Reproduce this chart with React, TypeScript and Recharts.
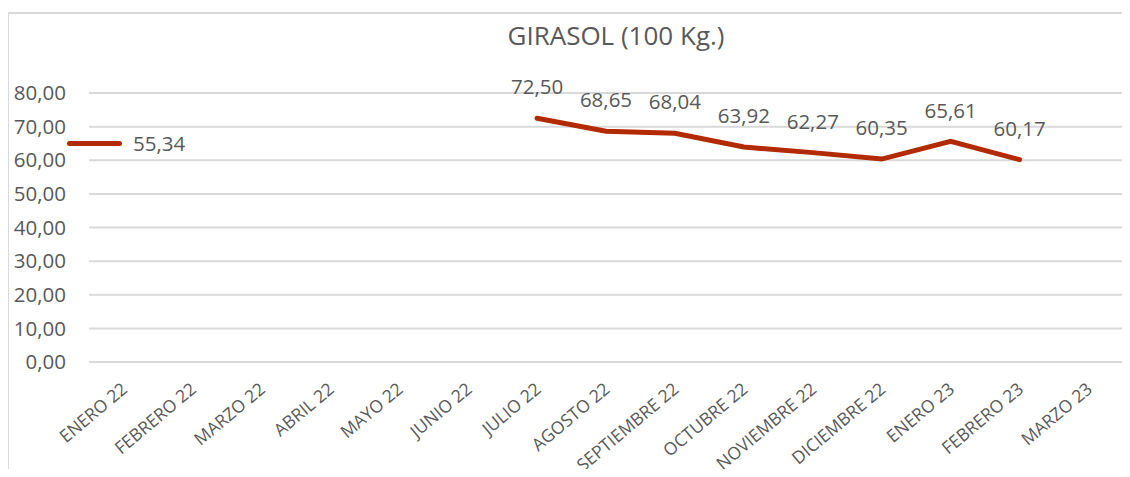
import React from 'react';
import { LineChart, Line, XAxis, YAxis, CartesianGrid, LabelList } from 'recharts';

const months = [
  'ENERO 22', 'FEBRERO 22', 'MARZO 22', 'ABRIL 22', 'MAYO 22', 'JUNIO 22', 'JULIO 22',
  'AGOSTO 22', 'SEPTIEMBRE 22', 'OCTUBRE 22', 'NOVIEMBRE 22', 'DICIEMBRE 22',
  'ENERO 23', 'FEBRERO 23', 'MARZO 23',
];
const prices: (number | null)[] = [
  null, null, null, null, null, null, 72.5, 68.65, 68.04, 63.92, 62.27, 60.35, 65.61, 60.17, null,
];
const yTicks = [0, 10, 20, 30, 40, 50, 60, 70, 80];
const title = 'GIRASOL (100 Kg.)';
const legendLabel = '55,34';

const data = months.map((m, i) => ({ month: m, price: prices[i] }));

const FONT = '"Open Sans", sans-serif';
const TEXT = '#595959';
const LINE = '#B22A00';
const GRID = '#D9D9D9';

const fmt = (v: number) => v.toFixed(2).replace('.', ',');

const XTick = (props: any) => {
  const { x, y, payload } = props;
  const ax = x + 5;
  const ay = y + 21;
  return (
    <text
      x={ax}
      y={ay}
      transform={`rotate(-40 ${ax} ${ay})`}
      textAnchor="end"
      fill={TEXT}
      fontSize={17.5}
      fontFamily={FONT}
    >
      {payload.value}
    </text>
  );
};

const YTick = (props: any) => {
  const { x, y, payload } = props;
  return (
    <text x={x} y={y} dy="0.35em" textAnchor="end" fill={TEXT} fontSize={20.5} fontFamily={FONT}>
      {fmt(payload.value)}
    </text>
  );
};

const ValueLabel = (props: any) => {
  const { x, y, value } = props;
  if (value == null) return null;
  return (
    <text x={x} y={y - 31} dy="0.35em" textAnchor="middle" fill={TEXT} fontSize={20.5} fontFamily={FONT}>
      {fmt(value)}
    </text>
  );
};

export default function App() {
  return (
    <div style={{ position: 'relative', width: 1130, height: 477, margin: -8, background: '#fff', overflow: 'hidden' }}>
      <div
        style={{
          position: 'absolute', left: 7, top: 12, width: 1140, height: 480,
          borderLeft: `2px solid ${GRID}`, borderTop: `2px solid ${GRID}`, boxSizing: 'border-box',
        }}
      />
      <div
        style={{
          position: 'absolute', left: 0, width: 1232, top: 17, textAlign: 'center',
          fontFamily: FONT, fontSize: 26, color: TEXT, lineHeight: '36px', whiteSpace: 'nowrap',
        }}
      >
        {title}
      </div>
      <div style={{ position: 'absolute', left: 0, top: 0 }}>
        <LineChart width={1130} height={477} data={data} margin={{ top: 93, right: 7, bottom: 0, left: 0 }}>
          <CartesianGrid stroke={GRID} strokeWidth={2} vertical={false} />
          <XAxis
            dataKey="month"
            axisLine={false}
            tickLine={false}
            interval={0}
            tick={<XTick />}
            height={115}
            padding={{ left: 34.5, right: 34.5 }}
          />
          <YAxis
            domain={[0, 80]}
            ticks={yTicks}
            axisLine={false}
            tickLine={false}
            width={89}
            tickSize={0}
            tickMargin={23}
            tick={<YTick />}
          />
          <Line
            type="linear"
            dataKey="price"
            stroke={LINE}
            strokeWidth={5}
            dot={false}
            activeDot={false}
            isAnimationActive={false}
            connectNulls={false}
            strokeLinecap="round"
          >
            <LabelList dataKey="price" content={<ValueLabel />} />
          </Line>
        </LineChart>
      </div>
      <div style={{ position: 'absolute', left: 67, top: 129, display: 'flex', alignItems: 'center', height: 28 }}>
        <span style={{ display: 'inline-block', width: 55, height: 5, background: LINE, borderRadius: 3 }} />
        <span style={{ marginLeft: 11, fontFamily: FONT, fontSize: 20.5, color: TEXT }}>{legendLabel}</span>
      </div>
    </div>
  );
}
